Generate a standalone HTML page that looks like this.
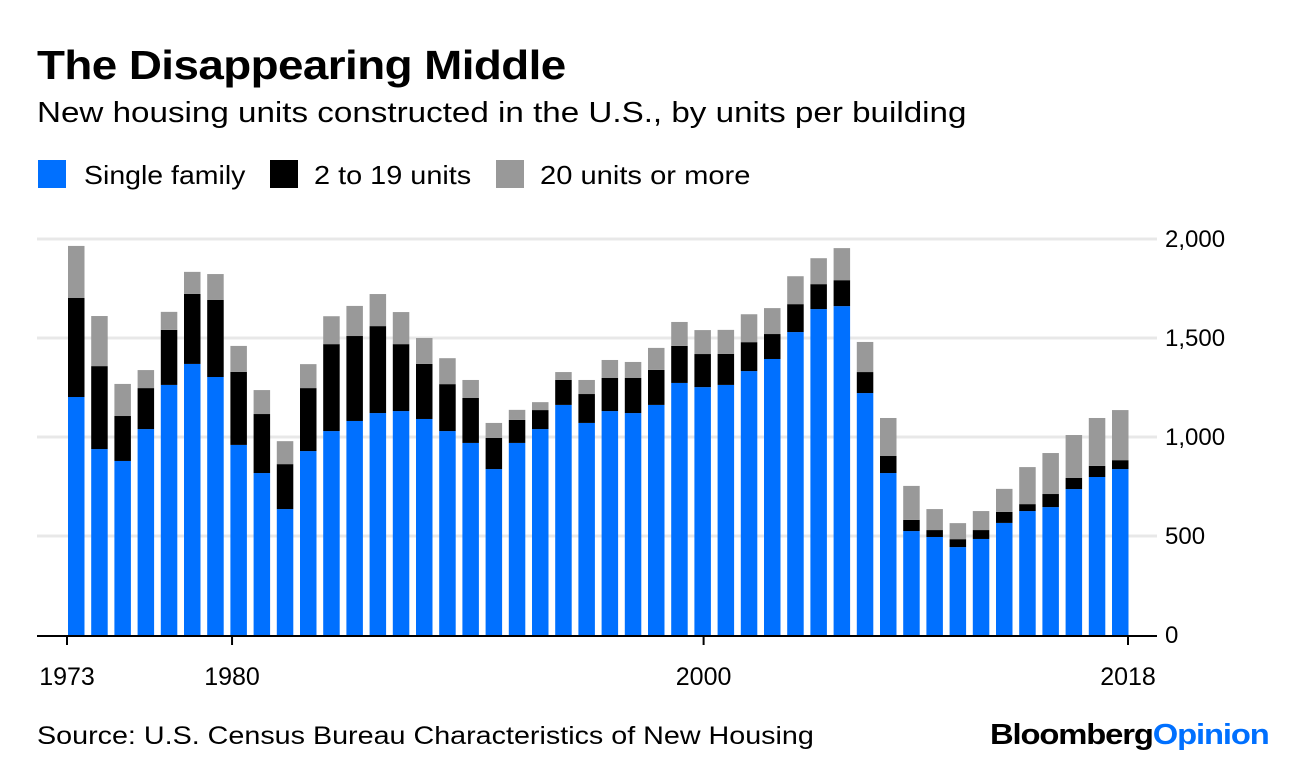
<!DOCTYPE html>
<html><head><meta charset="utf-8"><style>
body{margin:0;background:#fff;font-family:"Liberation Sans",Arial,sans-serif;}
#wrap{position:relative;width:1296px;height:768px;overflow:hidden;background:#fff}
.t{position:absolute;white-space:nowrap;color:#000;transform-origin:0 50%}
</style></head><body>
<div id="wrap">
<div class="t" style="left:37px;top:42px;font-size:41px;font-weight:bold;letter-spacing:-0.5px;transform:scaleX(1.116)">The Disappearing Middle</div>
<div class="t" style="left:37px;top:97px;font-size:29px;transform:scaleX(1.144)">New housing units constructed in the U.S., by units per building</div>
<div>
<div style="position:absolute;left:38px;top:160px;width:28px;height:28px;background:#0070ff"></div>
<div class="t" style="left:84px;top:160px;font-size:26px;transform:scaleX(1.095)">Single family</div>
<div style="position:absolute;left:270px;top:160px;width:28px;height:28px;background:#000"></div>
<div class="t" style="left:314px;top:160px;font-size:26px;transform:scaleX(1.11)">2 to 19 units</div>
<div style="position:absolute;left:496px;top:160px;width:28px;height:28px;background:#999"></div>
<div class="t" style="left:540px;top:160px;font-size:26px;transform:scaleX(1.12)">20 units or more</div>
</div>
<svg id="chart" width="1296" height="768" style="position:absolute;left:0;top:0"></svg>
<div class="t" style="left:37px;top:722px;font-size:25px;transform:scaleX(1.148)">Source: U.S. Census Bureau Characteristics of New Housing</div>
<div class="t" style="left:990px;top:719px;font-size:29px;font-weight:bold;letter-spacing:-1px;transform:scaleX(1.13)">Bloomberg<span style="color:#0070ff">Opinion</span></div>
</div>
<script>
const years=[1973,1974,1975,1976,1977,1978,1979,1980,1981,1982,1983,1984,1985,1986,1987,1988,1989,1990,1991,1992,1993,1994,1995,1996,1997,1998,1999,2000,2001,2002,2003,2004,2005,2006,2007,2008,2009,2010,2011,2012,2013,2014,2015,2016,2017,2018];
const singleFamily=[1202,939,879,1040,1263,1369,1303,960,818,636,929,1030,1081,1121,1131,1091,1030,970,838,970,1040,1162,1071,1131,1121,1162,1273,1252,1263,1333,1394,1530,1646,1661,1222,818,525,495,444,485,566,626,646,737,798,838];
const twoTo19=[500,419,227,207,278,354,389,369,298,227,318,439,429,439,338,278,237,227,157,116,96,126,146,167,177,177,187,167,157,146,126,141,126,131,106,86,56,35,40,45,56,35,66,56,56,45];
const twentyPlus=[263,253,162,91,91,111,131,131,121,116,121,141,152,162,162,131,131,91,76,51,40,40,71,91,81,111,121,121,121,141,131,141,131,162,152,192,172,106,81,96,116,187,207,217,242,253];
const yTicks=[0,500,1000,1500,2000];
const yTickLabels=["0","500","1,000","1,500","2,000"];
const xTicks=[1973,1980,2000,2018];
const NS='http://www.w3.org/2000/svg';
const svg=document.getElementById('chart');
const y0=635,pxPer=396/2000;
const yScale=v=>y0-v*pxPer;
const bandX=i=>68+i*23.2, bw=16.5;
const xScale=yr=>67+(yr-1973)*(1061/45);
function mk(t,a){const e=document.createElementNS(NS,t);for(const k in a)e.setAttribute(k,a[k]);svg.appendChild(e);return e;}
yTicks.forEach((v,i)=>{
  if(v>0){const g=mk('line',{x1:37,x2:1157,y1:yScale(v),y2:yScale(v),stroke:'#e8e8e8','stroke-width':3});
  
  }
  const t=mk('text',{x:1165,y:yScale(v)+8,'font-size':24,'font-family':'Liberation Sans, sans-serif',fill:'#000'});
  t.textContent=yTickLabels[i];
  
  
});
years.forEach((yr,i)=>{
  const x=bandX(i);
  const s=singleFamily[i],m=twoTo19[i],l=twentyPlus[i];
  const b1=mk('rect',{x:x,width:bw,y:yScale(s),height:s*pxPer,fill:'#0070ff'});
  
  
  const b2=mk('rect',{x:x,width:bw,y:yScale(s+m),height:m*pxPer,fill:'#000'});
  
  
  const b3=mk('rect',{x:x,width:bw,y:yScale(s+m+l),height:l*pxPer,fill:'#999'});
  
  
});
const ax=mk('line',{x1:37,x2:1157,y1:y0+1,y2:y0+1,stroke:'#000','stroke-width':2});


xTicks.forEach(yr=>{
  const x=xScale(yr);
  const tk=mk('line',{x1:x,x2:x,y1:y0,y2:y0+10,stroke:'#000','stroke-width':2});
  
  
  const t=mk('text',{x:x,y:685,'font-size':25,'text-anchor':'middle','font-family':'Liberation Sans, sans-serif',fill:'#000'});
  t.textContent=String(yr);
  
  
});
</script>
</body></html>
